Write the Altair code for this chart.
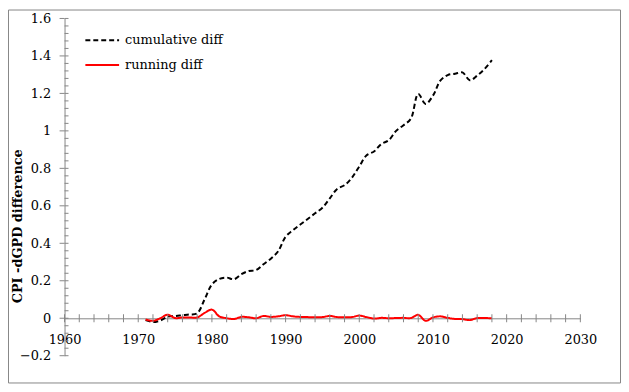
import altair as alt
import pandas as pd

years = list(range(1971, 2019))
cumulative = [-0.01, -0.02, -0.012, 0.008, 0.012, 0.016, 0.02, 0.026, 0.10, 0.18,
              0.21, 0.217, 0.208, 0.235, 0.252, 0.257, 0.288, 0.318, 0.358, 0.435,
              0.47, 0.50, 0.53, 0.56, 0.59, 0.64, 0.69, 0.71, 0.75, 0.81,
              0.87, 0.89, 0.93, 0.95, 1.0, 1.03, 1.065, 1.197, 1.144, 1.188,
              1.268, 1.298, 1.305, 1.312, 1.27, 1.295, 1.33, 1.377]
running = [-0.007, -0.014, 0.0, 0.019, 0.001, 0.004, 0.004, 0.004, 0.028, 0.046,
           0.01, 0.0, -0.004, 0.007, 0.005, 0.0, 0.012, 0.007, 0.01, 0.016,
           0.01, 0.007, 0.006, 0.005, 0.006, 0.012, 0.006, 0.005, 0.006, 0.014,
           0.006, -0.002, 0.002, 0.0, 0.001, 0.002, 0.001, 0.018, -0.014, 0.004,
           0.01, 0.002, -0.004, -0.005, -0.01, 0.001, 0.001, 0.0]
series_names = ["cumulative diff", "running diff"]
x_ticks = list(range(1960, 2031, 10))
x_minor = list(range(1960, 2031, 2))
y_major = [round(-0.2 + 0.2 * i, 2) for i in range(10)]
y_minor = [round(-0.2 + 0.04 * i, 2) for i in range(46)]

FONT = "DejaVu Serif"
GRAY = "#868686"

df = pd.DataFrame({
    "year": years * 2,
    "value": cumulative + running,
    "series": [series_names[0]] * len(years) + [series_names[1]] * len(years),
})

xscale = alt.Scale(domain=[1960, 2030], nice=False, zero=False)
yscale = alt.Scale(domain=[-0.2, 1.6], nice=False, zero=False)

xaxis = alt.Axis(
    values=x_ticks, format="d", title=None, grid=False,
    domainColor=GRAY, ticks=False, tickSize=0, labelPadding=15,
    labelFont=FONT, labelFontSize=13, labelColor="black",
    offset=-37.7, labelFlush=False, labelOverlap=False)
yaxis = alt.Axis(
    values=y_major, title="CPI -dGPD difference", grid=False,
    domainColor=GRAY, ticks=False, tickSize=0, labelPadding=14,
    labelFont=FONT, labelFontSize=13, labelColor="black",
    labelFlush=False, labelOverlap=False,
    titleFont=FONT, titleFontSize=13, titleFontWeight="bold",
    titleColor="black", titleX=-47, titleY=209, titleAngle=-90,
    titleAlign="center", titleBaseline="middle",
    labelExpr="datum.value == 0 ? '0' : datum.value == 1 ? '1' : format(datum.value, '.1f')")

legend = alt.Legend(
    title=None, orient="none", legendX=20, legendY=4,
    symbolType="stroke", symbolSize=1156, symbolStrokeWidth=2,
    labelFont=FONT, labelFontSize=13, labelColor="black",
    labelOffset=5, rowPadding=-5, padding=0,
)

lines = alt.Chart(df).mark_line(interpolate="catmull-rom", strokeWidth=2).encode(
    x=alt.X("year:Q", scale=xscale, axis=xaxis),
    y=alt.Y("value:Q", scale=yscale, axis=yaxis),
    color=alt.Color("series:N", scale=alt.Scale(domain=series_names, range=["black", "red"]), legend=legend),
    strokeDash=alt.StrokeDash("series:N", scale=alt.Scale(domain=series_names, range=[[5, 3], [1, 0]]), legend=legend),
)

xt = alt.Chart(pd.DataFrame({"x": x_minor})).mark_tick(
    orient="vertical", size=8, thickness=1, color=GRAY, opacity=1
).encode(x=alt.X("x:Q", scale=xscale, axis=xaxis), y=alt.datum(0, scale=yscale, axis=yaxis))

ymaj = alt.Chart(pd.DataFrame({"y": y_major})).mark_tick(
    orient="horizontal", size=5, thickness=1, color=GRAY, opacity=1, xOffset=-2.5
).encode(y=alt.Y("y:Q", scale=yscale, axis=yaxis), x=alt.datum(1960, scale=xscale, axis=xaxis))

ymin = alt.Chart(pd.DataFrame({"y": y_minor})).mark_tick(
    orient="horizontal", size=4, thickness=1, color=GRAY, opacity=1, xOffset=2
).encode(y=alt.Y("y:Q", scale=yscale, axis=yaxis), x=alt.datum(1960, scale=xscale, axis=xaxis))

border = alt.Chart(pd.DataFrame({"a": [0]})).mark_rect(
    fill=None, stroke=GRAY, strokeWidth=1
).encode(x=alt.value(-56.5), x2=alt.value(560.5), y=alt.value(-8.5), y2=alt.value(367.5))

chart = alt.layer(lines, border, xt, ymaj, ymin).properties(
    width=520, height=340,
    background="white",
    autosize=alt.AutoSizeParams(type="none"),
    padding={"left": 57, "top": 9, "right": 41, "bottom": 28},
).configure_view(stroke=None)

chart.save("out.html", embed_options={"renderer": "svg", "actions": False})
